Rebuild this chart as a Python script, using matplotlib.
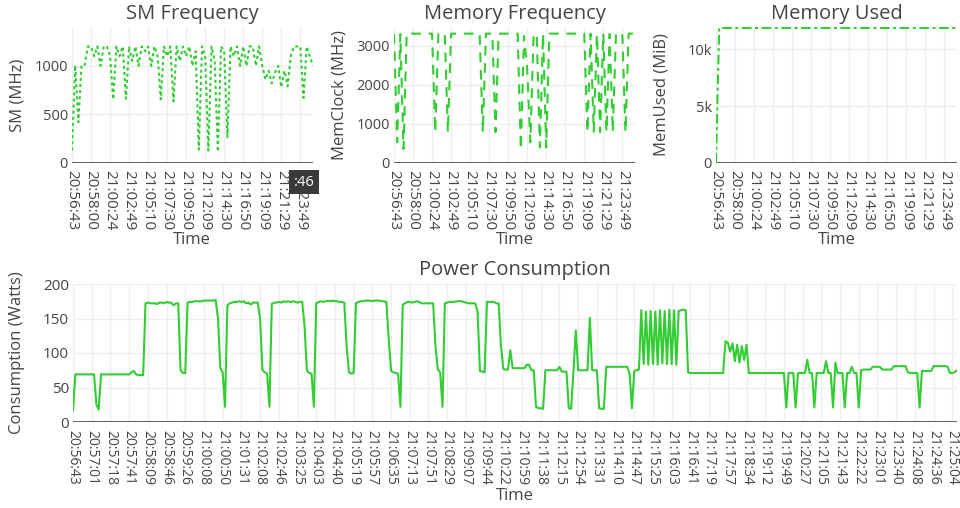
import matplotlib.pyplot as plt
import numpy as np


# top row: one sample per category, a labelled tick every top_step samples
top_ticks = ['20:56:43', '20:58:00', '21:00:24', '21:02:49', '21:05:10', '21:07:30',
             '21:09:50', '21:12:09', '21:14:30', '21:16:50', '21:19:09', '21:21:29',
             '21:23:49']
top_step = 6

sm_mhz = [
  130, 1005, 420, 1005, 1005, 1200,
  1200, 1100, 1200, 1000, 1200, 1200,
  1100, 655, 1200, 1100, 1200, 662,
  1200, 1050, 1200, 1000, 1200, 1150,
  1200, 1000, 1200, 1100, 655, 1200,
  1100, 1200, 634, 1200, 1050, 1200,
  1100, 1200, 1000, 1150, 138, 1200,
  1100, 128, 1200, 1050, 117, 1200,
  1150, 265, 1200, 1100, 1200, 1000,
  1200, 1000, 1200, 1200, 1000, 1200,
  1000, 860, 950, 820, 930, 1000,
  780, 950, 790, 1100, 1200, 1200,
  1200, 669, 1200, 1100, 1000,
]

mem_clock = [
  3300, 530, 3300, 360, 3310, 3310,
  3310, 3310, 3310, 3310, 3310, 3310,
  3310, 790, 3310, 3310, 3310, 790,
  3310, 3310, 3310, 3310, 3310, 3310,
  3310, 3310, 3310, 3310, 790, 3310,
  3310, 3310, 790, 3310, 3310, 3310,
  3310, 3310, 3310, 3310, 340, 3250,
  2400, 530, 3250, 3310, 400, 3310,
  400, 3310, 3310, 3310, 3310, 3310,
  3310, 3310, 3310, 3310, 3310, 3310,
  3310, 790, 3310, 800, 3300, 790,
  3310, 800, 3300, 790, 3310, 3310,
  3310, 790, 3310, 3310, 3310,
]

mem_used = [
  0, 11850, 11850, 11850, 11850, 11850,
  11850, 11850, 11850, 11850, 11850, 11850,
  11850, 11850, 11850, 11850, 11850, 11850,
  11850, 11850, 11850, 11850, 11850, 11850,
  11850, 11850, 11850, 11850, 11850, 11850,
  11850, 11850, 11850, 11850, 11850, 11850,
  11850, 11850, 11850, 11850, 11850, 11850,
  11850, 11850, 11850, 11850, 11850, 11850,
  11850, 11850, 11850, 11850, 11850, 11850,
  11850, 11850, 11850, 11850, 11850, 11850,
  11850, 11850, 11850, 11850, 11850, 11850,
  11850, 11850, 11850, 11850, 11850, 11850,
  11850, 11850, 11850, 11850, 11850,
]

# bottom row
power_ticks = ['20:56:43', '20:57:01', '20:57:18', '20:57:41', '20:58:09', '20:58:46',
               '20:59:26', '21:00:08', '21:00:50', '21:01:31', '21:02:08', '21:02:46',
               '21:03:25', '21:04:03', '21:04:40', '21:05:19', '21:05:57', '21:06:35',
               '21:07:13', '21:07:51', '21:08:29', '21:09:07', '21:09:44', '21:10:22',
               '21:10:59', '21:11:38', '21:12:15', '21:12:54', '21:13:31', '21:14:10',
               '21:14:47', '21:15:25', '21:16:03', '21:16:41', '21:17:19', '21:17:57',
               '21:18:34', '21:19:12', '21:19:49', '21:20:27', '21:21:05', '21:21:43',
               '21:22:22', '21:23:01', '21:23:40', '21:24:08', '21:24:36', '21:25:04']
power_step = 8

power_watts = [
  17, 69, 69, 69, 69, 69, 69, 69,
  69, 69, 25, 18, 69, 69, 69, 69,
  69, 69, 69, 69, 69, 69, 69, 69,
  69, 72, 74, 69, 68, 68, 68, 172,
  173, 172, 172, 172, 171, 173, 173, 172,
  174, 173, 173, 169, 172, 172, 75, 71,
  71, 173, 174, 174, 175, 175, 175, 175,
  176, 176, 176, 176, 176, 177, 150, 78,
  72, 22, 169, 172, 173, 174, 174, 175,
  174, 175, 172, 173, 170, 173, 173, 173,
  150, 75, 72, 70, 22, 171, 173, 173,
  174, 173, 175, 174, 175, 174, 175, 174,
  173, 174, 174, 140, 75, 71, 70, 22,
  172, 174, 175, 174, 175, 176, 175, 176,
  175, 175, 174, 174, 173, 110, 72, 70,
  71, 172, 174, 175, 175, 176, 176, 176,
  175, 176, 176, 176, 175, 175, 174, 120,
  74, 72, 71, 70, 22, 170, 172, 174,
  174, 173, 174, 175, 174, 172, 172, 172,
  172, 172, 172, 110, 76, 72, 22, 172,
  173, 174, 174, 174, 175, 175, 175, 174,
  173, 172, 172, 172, 172, 160, 74, 73,
  72, 174, 174, 174, 174, 172, 172, 110,
  77, 76, 76, 104, 78, 78, 78, 78,
  78, 78, 83, 83, 75, 75, 22, 20,
  20, 19, 75, 75, 75, 75, 75, 75,
  80, 73, 73, 73, 20, 19, 74, 133,
  75, 75, 75, 75, 75, 151, 75, 75,
  75, 20, 19, 19, 80, 80, 80, 80,
  80, 80, 80, 80, 80, 80, 70, 20,
  74, 75, 76, 162, 84, 160, 83, 161,
  84, 160, 83, 162, 85, 161, 84, 163,
  84, 162, 83, 161, 162, 163, 162, 72,
  71, 71, 71, 71, 71, 71, 71, 71,
  71, 71, 71, 71, 71, 71, 71, 117,
  115, 102, 114, 88, 112, 86, 110, 90,
  112, 71, 71, 71, 71, 71, 71, 71,
  71, 71, 71, 71, 71, 71, 71, 71,
  71, 21, 71, 71, 71, 21, 71, 71,
  71, 71, 90, 71, 71, 21, 71, 71,
  71, 71, 88, 71, 71, 21, 86, 71,
  71, 71, 21, 71, 71, 80, 71, 71,
  21, 75, 76, 76, 76, 76, 80, 80,
  80, 80, 76, 76, 76, 76, 76, 81,
  81, 81, 81, 81, 81, 72, 71, 71,
  71, 71, 21, 74, 74, 74, 74, 74,
  81, 81, 81, 81, 81, 81, 80, 71,
  71, 72, 75,
]

GREEN = '#32cd32'
TEXT = '#444444'
GRID = '#eeeeee'

plt.rcParams['font.family'] = ['Open Sans', 'DejaVu Sans']
plt.rcParams['lines.scale_dashes'] = False

W, H = 960, 508


def box(left, top, right, bottom):
  """ pixel box -> figure fraction rect """
  return [left / W, 1 - bottom / H, (right - left) / W, (bottom - top) / H]


def label(fig, x, y, s, size, rotation=0):
  fig.text(x / W, 1 - y / H, s, ha='center', va='center', color=TEXT,
           fontsize=size, rotation=rotation)


def panel(fig, rect, values, ticks, step, ylim, yticks, yticklabels, dashes,
          xtick_size, ytick_size, pad):

  ax = fig.add_axes(rect)
  x = np.arange(len(values))

  line, = ax.plot(x, values, color=GREEN, lw=1.5, solid_joinstyle='round')
  if dashes:
    line.set_dashes(dashes)
    line.set_dash_capstyle('butt')

  ax.set_xlim(0, len(values) - 1)
  ax.set_ylim(*ylim)
  ax.set_xticks(np.arange(0, len(values), step)[:len(ticks)], ticks, rotation=-90)
  ax.set_yticks(yticks, yticklabels)

  ax.grid(color=GRID, lw=1)
  ax.set_axisbelow(True)
  ax.axhline(0, color=TEXT, lw=1.2, zorder=1)
  for s in ax.spines.values():
    s.set_visible(False)
  ax.tick_params(length=0, colors=TEXT)
  ax.tick_params(axis='x', pad=pad, labelsize=xtick_size)
  ax.tick_params(axis='y', pad=3, labelsize=ytick_size)

  return ax


fig = plt.figure(figsize=(9.6, 5.08), dpi=100)

panel(fig, box(72, 27, 313, 163), sm_mhz, top_ticks, top_step,
      (0, 1400), [0, 500, 1000], ['0', '500', '1000'], (2.2, 2.2), 11, 10.5, 5)
panel(fig, box(394, 27, 635, 163), mem_clock, top_ticks, top_step,
      (0, 3480), [0, 1000, 2000, 3000], ['0', '1000', '2000', '3000'], (7, 5.5),
      11, 10.5, 5)
panel(fig, box(716, 27, 957, 163), mem_used, top_ticks, top_step,
      (0, 11930), [0, 5000, 10000], ['0', '5k', '10k'], (7, 2.5, 2.2, 2.5), 11, 10.5, 5)
panel(fig, box(73, 284, 957, 422), power_watts, power_ticks, power_step,
      (0, 200), [0, 50, 100, 150, 200], ['0', '50', '100', '150', '200'], None,
      10, 11, 5.5)

label(fig, 192, 14, 'SM Frequency', 14.5)
label(fig, 515, 14, 'Memory Frequency', 14.5)
label(fig, 837, 14, 'Memory Used', 14.5)
label(fig, 515, 270, 'Power Consumption', 14.5)

label(fig, 192, 240, 'Time', 12)
label(fig, 515, 240, 'Time', 12)
label(fig, 837, 240, 'Time', 12)
label(fig, 515, 496, 'Time', 12)

label(fig, 17, 95, 'SM (MHz)', 12, 90)
label(fig, 340, 95, 'MemClock (MHz)', 12, 90)
label(fig, 662, 95, 'MemUsed (MiB)', 12, 90)
label(fig, 17, 353, 'Consumption (Watts)', 12, 90)

# hover label left over in the screenshot, it sits on top of the last tick label
fig.text(304 / W, 1 - 182 / H, ':46', ha='center', va='center', color='white', fontsize=10.5,
         bbox=dict(boxstyle='square,pad=0.3', fc='#3a3a3a', ec='none'))

fig.savefig('out.png', dpi=100)
